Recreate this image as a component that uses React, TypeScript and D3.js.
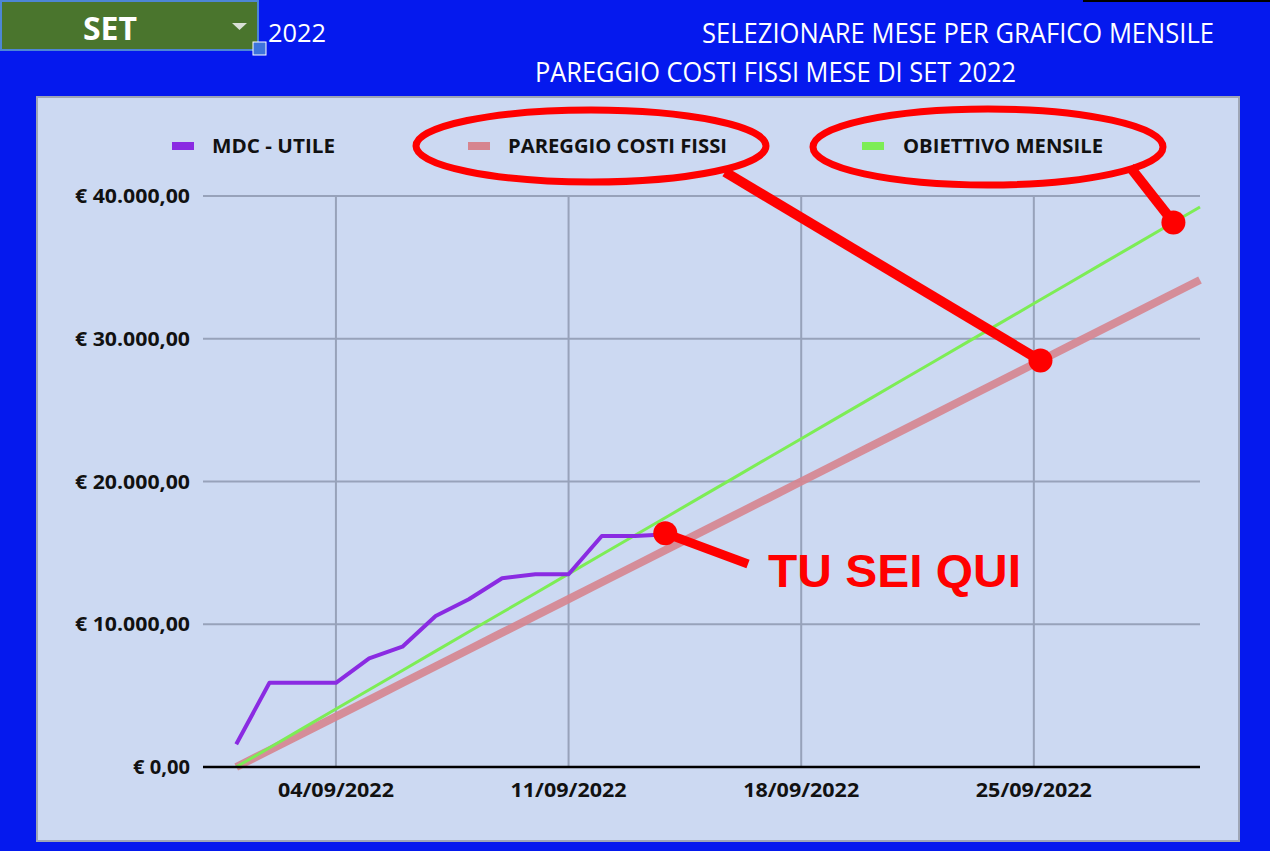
import React from "react";
import * as d3 from "d3";

// ---------- data ----------
const days: number[] = [1,2,3,4,5,6,7,8,9,10,11,12,13,14,15,16,17,18,19,20,21,22,23,24,25,26,27,28,29,30];
const mdcUtile: number[] = [1590, 5900, 5900, 5900, 7610, 8430, 10580, 11750, 13220, 13500, 13500, 16180, 16180, 16300];
const pareggioCostiFissi: number[] = [0, 1176, 2353, 3529, 4706, 5882, 7058, 8235, 9411, 10588, 11764, 12940, 14117, 15293, 16470, 17646, 18822, 19999, 21175, 22352, 23528, 24704, 25881, 27057, 28234, 29410, 30586, 31763, 32939, 34115];
const obiettivoMensile: number[] = [0, 1353, 2706, 4058, 5411, 6764, 8117, 9470, 10822, 12175, 13528, 14881, 16234, 17586, 18939, 20292, 21645, 22998, 24350, 25703, 27056, 28409, 29762, 31114, 32467, 33820, 35173, 36526, 37878, 39231];
const yTicks: number[] = [0, 10000, 20000, 30000, 40000];
const yTickLabels: string[] = ["€ 0,00", "€ 10.000,00", "€ 20.000,00", "€ 30.000,00", "€ 40.000,00"];
const xTickDays: number[] = [4, 11, 18, 25];
const xTickLabels: string[] = ["04/09/2022", "11/09/2022", "18/09/2022", "25/09/2022"];
const legendNames: string[] = ["MDC - UTILE", "PAREGGIO COSTI FISSI", "OBIETTIVO MENSILE"];
const monthLabel = "SET";
const yearLabel = "2022";
const title1 = "SELEZIONARE MESE PER GRAFICO MENSILE";
const title2 = "PAREGGIO COSTI FISSI MESE DI SET 2022";
const calloutText = "TU SEI QUI";

const W = 1270, H = 862;
const BLUE = "#0519ee";
const PANEL = "#ccd9f2";
const PURPLE = "#8a2be2";
const PINK = "#d6848f";
const GREEN = "#7ded55";
const RED = "#ff0000";
const FONT = "'Liberation Sans Narrow', 'Open Sans', 'DejaVu Sans', sans-serif";

export default function App() {
  const x = d3.scaleLinear().domain([0, 30]).range([203, 1200]);
  const y = d3.scaleLinear().domain([0, 40000]).range([767, 196]);

  const line = d3.line<[number, number]>().x(d => x(d[0])).y(d => y(d[1]));
  const mdcPts: [number, number][] = mdcUtile.map((v, i) => [days[i], v]);
  const parPts: [number, number][] = pareggioCostiFissi.map((v, i) => [days[i], v]);
  const objPts: [number, number][] = obiettivoMensile.map((v, i) => [days[i], v]);

  const interp = (arr: number[], d: number) => {
    const i = Math.floor(d) - 1;
    const t = d - Math.floor(d);
    return arr[i] + (arr[i + 1] - arr[i]) * t;
  };

  // annotation anchors
  const lastDay = days[mdcUtile.length - 1];
  const dotA: [number, number] = [x(lastDay) - 3, y(mdcUtile[mdcUtile.length - 1]) - 1];
  const dotB: [number, number] = [x(25.2), y(interp(pareggioCostiFissi, 25.2))];
  const dotC: [number, number] = [x(29.2), y(interp(obiettivoMensile, 29.2))];

  const legendItems = [
    { name: legendNames[0], color: PURPLE, sx: 172, tx: 212, tw: 123 },
    { name: legendNames[1], color: PINK, sx: 468, tx: 508, tw: 219 },
    { name: legendNames[2], color: GREEN, sx: 862, tx: 903, tw: 200 },
  ];
  const yLabelWidths = [57, 115, 115, 115, 115];

  return (
    <svg width={W} height={H} style={{ position: "absolute", left: 0, top: 0, display: "block" }}>
      <rect x={0} y={0} width={W} height={H} fill="#ffffff" />
      <rect x={0} y={0} width={W} height={851} fill={BLUE} />
      <rect x={1083} y={0} width={187} height={2} fill="#000" />

      {/* month selector */}
      <rect x={1} y={1} width={257} height={49} fill="#4a752d" stroke="#4d86d6" strokeWidth={2} />
      <text x={110} y={40} textAnchor="middle" fill="#fff" fontFamily={FONT} fontWeight="bold" fontSize={32} textLength={54} lengthAdjust="spacingAndGlyphs">{monthLabel}</text>
      <path d="M232,23 L247,23 L239.5,30 Z" fill="#d9e0d6" />
      <rect x={253} y={42} width={13} height={13} fill="#3d74dc" stroke="#ffffff" strokeWidth={1} />
      <text x={268} y={42} fill="#fff" fontFamily={FONT} fontSize={26} textLength={58} lengthAdjust="spacingAndGlyphs">{yearLabel}</text>

      {/* titles */}
      <text x={702} y={43} fill="#fff" fontFamily={FONT} fontSize={27} textLength={512} lengthAdjust="spacingAndGlyphs">{title1}</text>
      <text x={535} y={82} fill="#fff" fontFamily={FONT} fontSize={27} textLength={481} lengthAdjust="spacingAndGlyphs">{title2}</text>

      {/* panel */}
      <rect x={37} y={97} width={1202} height={744} fill={PANEL} stroke="#9ea6b6" strokeWidth={2} />

      {/* gridlines */}
      {yTicks.filter(t => t > 0).map(t => (
        <line key={"gy" + t} x1={x(0)} x2={x(30)} y1={y(t)} y2={y(t)} stroke="#97a2ba" strokeWidth={2} />
      ))}
      {xTickDays.map(d => (
        <line key={"gx" + d} x1={x(d)} x2={x(d)} y1={y(40000)} y2={y(0)} stroke="#97a2ba" strokeWidth={2} />
      ))}

      {/* y labels */}
      {yTicks.map((t, i) => (
        <text key={"yl" + t} x={190} y={y(t) + 7} textAnchor="end" fill="#111" fontFamily={FONT} fontWeight="bold" fontSize={20} textLength={yLabelWidths[i]} lengthAdjust="spacingAndGlyphs">{yTickLabels[i]}</text>
      ))}
      {/* x labels */}
      {xTickDays.map((d, i) => (
        <text key={"xl" + d} x={x(d)} y={y(0) + 30} textAnchor="middle" fill="#111" fontFamily={FONT} fontWeight="bold" fontSize={20} textLength={116} lengthAdjust="spacingAndGlyphs">{xTickLabels[i]}</text>
      ))}

      {/* series */}
      <path d={line(parPts) || ""} fill="none" stroke={PINK} strokeOpacity={0.9} strokeWidth={8} />
      <path d={line(objPts) || ""} fill="none" stroke={GREEN} strokeWidth={3} />
      <path d={line(mdcPts) || ""} fill="none" stroke={PURPLE} strokeWidth={4} strokeLinejoin="round" />

      {/* x axis */}
      <line x1={x(0)} x2={x(30)} y1={y(0)} y2={y(0)} stroke="#000" strokeWidth={2.5} />

      {/* legend */}
      {legendItems.map(it => (
        <g key={it.name}>
          <rect x={it.sx} y={142} width={22} height={8} fill={it.color} />
          <text x={it.tx} y={153} fill="#111" fontFamily={FONT} fontWeight="bold" fontSize={20} textLength={it.tw} lengthAdjust="spacingAndGlyphs">{it.name}</text>
        </g>
      ))}

      {/* annotations */}
      <ellipse cx={591} cy={146} rx={175} ry={36} fill="none" stroke={RED} strokeWidth={7} />
      <ellipse cx={988} cy={147} rx={175} ry={38} fill="none" stroke={RED} strokeWidth={7} />
      <line x1={725} x2={dotB[0]} y1={172} y2={dotB[1]} stroke={RED} strokeWidth={10} />
      <circle cx={dotB[0]} cy={dotB[1]} r={12} fill={RED} />
      <line x1={1130} x2={dotC[0]} y1={167} y2={dotC[1]} stroke={RED} strokeWidth={10} />
      <circle cx={dotC[0]} cy={dotC[1]} r={12} fill={RED} />
      <line x1={dotA[0]} x2={748} y1={dotA[1]} y2={564} stroke={RED} strokeWidth={9} />
      <circle cx={dotA[0]} cy={dotA[1]} r={12} fill={RED} />
      <text x={768} y={587} fill={RED} fontFamily="'Liberation Sans', Arial, sans-serif" fontWeight="bold" fontSize={47} textLength={253} lengthAdjust="spacingAndGlyphs">{calloutText}</text>
    </svg>
  );
}
